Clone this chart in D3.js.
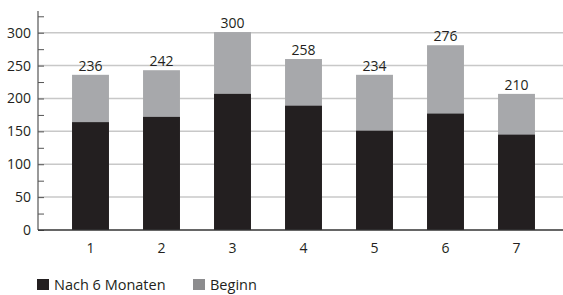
<!DOCTYPE html>
<html lang="de">
  <head>
    <meta charset="utf-8">
    <title>Gestapeltes Balkendiagramm</title>
    <script src="https://d3js.org/d3.v7.min.js"></script>
    <style>
      body { margin: 0; background: #fff; }
      text { font-family: "Open Sans", "Noto Sans", sans-serif; fill: #231f20; }
    </style>
  </head>
  <body>
    <svg id="chart" width="563" height="295"></svg>
    <script>
      // data
      const categories = ["1", "2", "3", "4", "5", "6", "7"];
      const beginn = [236, 243, 301, 260, 236, 281, 207];
      const nach6 = [164, 172, 207, 189, 151, 177, 145];
      const labels = ["236", "242", "300", "258", "234", "276", "210"];
      const yTicks = [0, 50, 100, 150, 200, 250, 300];
      const seriesNames = ["Nach 6 Monaten", "Beginn"];

      const colBlack = "#231f20";
      const colGray = "#a7a8ab";
      const colLegendGray = "#8c8c8e";

      const svg = d3.select("#chart");
      const axisX = 38;

      const x = d3.scaleBand()
        .domain(categories)
        .range([55, 552])
        .paddingInner(0.48)
        .paddingOuter(0.24);

      const y = d3.scaleLinear()
        .domain([0, 330])
        .range([230, 13]);

      // gridlines
      svg.append("g")
        .selectAll("line")
        .data(yTicks.filter(d => d > 0))
        .join("line")
          .attr("x1", axisX)
          .attr("x2", 563)
          .attr("y1", d => y(d))
          .attr("y2", d => y(d))
          .attr("stroke", "#c8c8c8")
          .attr("stroke-width", 1.5);

      // gray bars (Beginn) behind
      svg.append("g")
        .selectAll("rect")
        .data(categories)
        .join("rect")
          .attr("x", d => x(d))
          .attr("width", x.bandwidth())
          .attr("y", (d, i) => y(beginn[i]))
          .attr("height", (d, i) => y(0) - y(beginn[i]))
          .attr("fill", colGray);

      // black bars (Nach 6 Monaten)
      svg.append("g")
        .selectAll("rect")
        .data(categories)
        .join("rect")
          .attr("x", d => x(d))
          .attr("width", x.bandwidth())
          .attr("y", (d, i) => y(nach6[i]))
          .attr("height", (d, i) => y(0) - y(nach6[i]))
          .attr("fill", colBlack);

      // value labels
      svg.append("g")
        .selectAll("text")
        .data(categories)
        .join("text")
          .attr("x", d => x(d) + x.bandwidth() / 2)
          .attr("y", (d, i) => y(beginn[i]) - 4)
          .attr("text-anchor", "middle")
          .attr("font-size", 14)
          .text((d, i) => labels[i]);

      // y axis
      const yAxis = d3.axisRight(y)
        .tickValues(d3.range(0, 326, 25))
        .tickSize(6)
        .tickFormat("");
      const gy = svg.append("g")
        .attr("transform", `translate(${axisX},0)`)
        .call(yAxis);
      gy.select(".domain").remove();
      gy.selectAll(".tick line").attr("stroke", "#555").attr("stroke-width", 1);
      svg.append("line")
        .attr("x1", axisX).attr("x2", axisX)
        .attr("y1", 11).attr("y2", y(0))
        .attr("stroke", "#555").attr("stroke-width", 1.2);

      svg.append("g")
        .selectAll("text")
        .data(yTicks)
        .join("text")
          .attr("x", 31)
          .attr("y", d => y(d) + 5)
          .attr("text-anchor", "end")
          .attr("font-size", 14)
          .text(d => d);

      // baseline
      svg.append("line")
        .attr("x1", axisX).attr("x2", 563)
        .attr("y1", y(0)).attr("y2", y(0))
        .attr("stroke", "#333").attr("stroke-width", 1.5);

      // x labels
      svg.append("g")
        .selectAll("text")
        .data(categories)
        .join("text")
          .attr("x", d => x(d) + x.bandwidth() / 2)
          .attr("y", 253)
          .attr("text-anchor", "middle")
          .attr("font-size", 14)
          .text(d => d);

      // legend
      const legend = svg.append("g").attr("transform", "translate(37,279)");
      const legendX = [0, 156];
      const legendCols = [colBlack, colLegendGray];
      seriesNames.forEach((name, i) => {
        legend.append("rect")
          .attr("x", legendX[i]).attr("y", 0)
          .attr("width", 12).attr("height", 11)
          .attr("fill", legendCols[i]);
        legend.append("text")
          .attr("x", legendX[i] + 17)
          .attr("y", 11)
          .attr("font-size", 14.5)
          .text(name);
      });
    </script>
  </body>
</html>
